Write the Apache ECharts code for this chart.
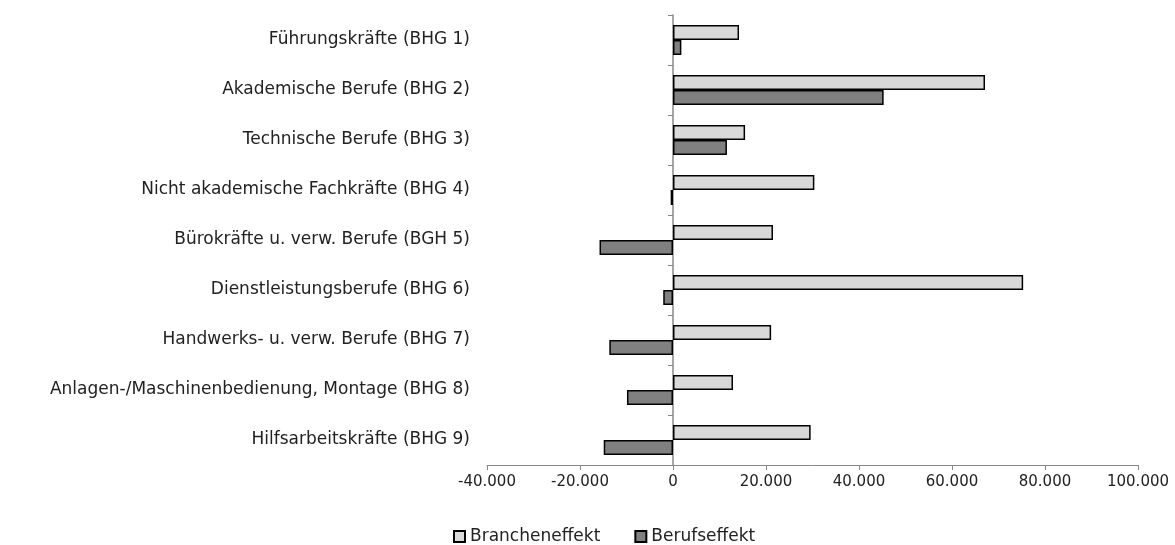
<!DOCTYPE html>
<html>
<head>
<meta charset="utf-8">
<script src="https://cdn.jsdelivr.net/npm/echarts@6/dist/echarts.min.js"></script>
<style>
    html, body { margin: 0; padding: 0; background: #fff; }
    #chart { width: 1175px; height: 545px; }
</style>
</head>
<body>
<div id="chart"></div>
<script>
// Berufshauptgruppen
const categories = [
    'Führungskräfte (BHG 1)',
    'Akademische Berufe (BHG 2)',
    'Technische Berufe (BHG 3)',
    'Nicht akademische Fachkräfte (BHG 4)',
    'Bürokräfte u. verw. Berufe (BGH 5)',
    'Dienstleistungsberufe (BHG 6)',
    'Handwerks- u. verw. Berufe (BHG 7)',
    'Anlagen-/Maschinenbedienung, Montage (BHG 8)',
    'Hilfsarbeitskräfte (BHG 9)'
]
const seriesNames = ['Brancheneffekt', 'Berufseffekt']
const brancheneffekt = [14200, 67100, 15500, 30400, 21500, 75300, 21100, 12900, 29600]
const berufseffekt = [1800, 45300, 11600, -500, -15800, -2100, -13700, -9900, -14900]

// Achse
const xMin = -40000
const xMax = 100000
const xStep = 20000

// Zahlen mit deutschem Tausenderpunkt
const fmt = v => {
    const s = Math.abs(v).toString().replace(/\B(?=(\d{3})+(?!\d))/g, '.')
    return (v < 0 ? '-' : '') + s
}

const font = 'DejaVu Sans'
const chart = echarts.init(document.getElementById('chart'))

chart.setOption({
    animation: false,
    grid: {
        left: 487,
        right: 37,
        top: 15,
        bottom: 80,
        containLabel: false,
        outerBoundsMode: 'none'
    },
    legend: {
        data: seriesNames,
        top: 528,
        left: 453,
        padding: 0,
        icon: 'rect',
        itemWidth: 11,
        itemHeight: 11,
        itemGap: 34,
        textStyle: { fontFamily: font, fontSize: 17, color: '#222' }
    },
    xAxis: {
        type: 'value',
        min: xMin,
        max: xMax,
        interval: xStep,
        splitLine: { show: false },
        axisLine: { show: true, lineStyle: { color: '#888', width: 1 } },
        axisTick: { show: true, length: 5, lineStyle: { color: '#888' } },
        axisLabel: {
            formatter: fmt,
            margin: 10,
            fontFamily: font,
            fontSize: 15,
            color: '#222'
        }
    },
    yAxis: {
        type: 'category',
        data: categories,
        inverse: true,
        axisLine: { show: true, onZero: true, lineStyle: { color: '#888', width: 1.5 } },
        axisTick: { show: true, length: 5, lineStyle: { color: '#888' } },
        axisLabel: {
            margin: 17,
            fontFamily: font,
            fontSize: 17,
            color: '#222'
        }
    },
    series: [
        {
            name: seriesNames[0],
            type: 'bar',
            data: brancheneffekt,
            barWidth: 15,
            barGap: '0%',
            itemStyle: { color: '#d9d9d9', borderColor: '#000', borderWidth: 1.5 }
        },
        {
            name: seriesNames[1],
            type: 'bar',
            data: berufseffekt,
            barWidth: 15,
            barGap: '0%',
            itemStyle: { color: '#808080', borderColor: '#000', borderWidth: 1.5 }
        }
    ]
})
</script>
</body>
</html>
